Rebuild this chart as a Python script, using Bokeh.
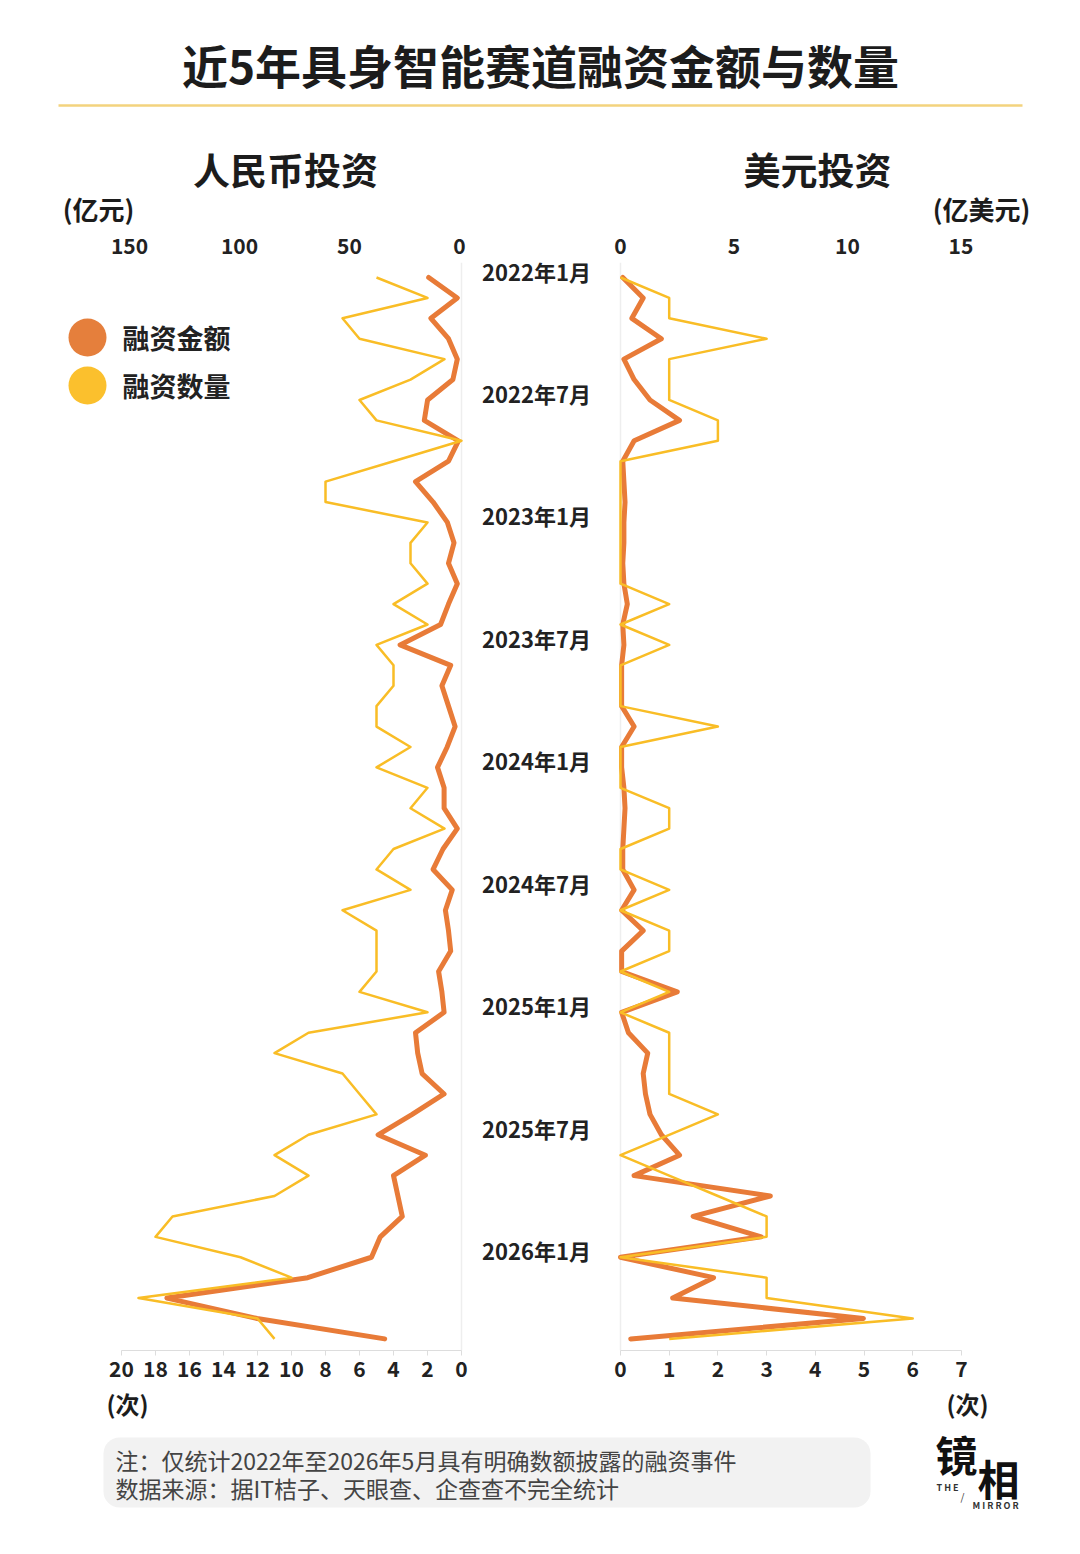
from bokeh.plotting import figure
from bokeh.models import (Range1d, LinearAxis, FixedTicker, Span, ColumnDataSource, BoxAnnotation)
from bokeh.layouts import column, row
from bokeh.embed import file_html
from bokeh.resources import INLINE
from bokeh.core.properties import value

# ---------------- data ----------------
months = [f"{y}-{m:02d}" for y in range(2022, 2027) for m in range(1, 13)][:53]

# 人民币投资: 融资金额(亿元) / 融资数量(次)
rmb_amount = [14, 1, 13, 5, 1, 3, 14.5, 16, 0.5, 5,
              20, 12, 5.5, 2.5, 5, 1, 5, 8.6, 27, 4,
              8, 5, 2, 5.6, 10, 7, 7, 1, 7.5, 12,
              3.3, 6.4, 5, 4, 9.5, 8, 7, 20, 19, 17,
              7, 21.5, 37, 15.5, 30, 28, 26, 36, 40, 69,
              133, 92, 34]
rmb_count = [5, 2, 7, 6, 1, 3, 6, 5, 0, 4,
             8, 8, 2, 3, 3, 2, 4, 2, 5, 4,
             4, 5, 5, 3, 5, 2, 3, 1, 4, 5,
             3, 7, 5, 5, 5, 6, 2, 9, 11, 7,
             6, 5, 9, 11, 9, 11, 17, 18, 13, 10,
             19, 12, 11]

# 美元投资: 融资金额(亿美元) / 融资数量(次)
usd_amount = [0.1, 1.0, 0.5, 1.8, 0.15, 0.6, 1.3, 2.6, 0.6, 0.1,
              0.15, 0.2, 0.15, 0.15, 0.1, 0.15, 0.3, 0.1, 0.15, 0.05,
              0.05, 0.05, 0.6, 0.05, 0.05, 0.15, 0.2, 0.15, 0.1, 0.1,
              0.6, 0.05, 1.0, 0.05, 0.05, 2.5, 0.05, 0.35, 1.2, 1.0,
              1.1, 1.3, 1.8, 2.6, 0.6, 6.6, 3.2, 6.2, 0.0, 4.1,
              2.3, 10.7, 0.45]
usd_count = [0, 1, 1, 3, 1, 1, 1, 2, 2, 0,
             0, 0, 0, 0, 0, 0, 1, 0, 1, 0,
             0, 0, 2, 0, 0, 0, 1, 1, 0, 0,
             1, 0, 1, 1, 0, 1, 0, 1, 1, 1,
             1, 2, 1, 0, 1, 2, 3, 3, 0, 3,
             3, 6, 1]

month_tick_keys = ["2022-01", "2022-07", "2023-01", "2023-07", "2024-01",
                   "2024-07", "2025-01", "2025-07", "2026-01"]
month_tick_labels = ["2022年1月", "2022年7月", "2023年1月", "2023年7月", "2024年1月",
                     "2024年7月", "2025年1月", "2025年7月", "2026年1月"]

legend_labels = ["融资金额", "融资数量"]

rmb_amount_ticks = [0, 50, 100, 150]
rmb_count_ticks = [0, 2, 4, 6, 8, 10, 12, 14, 16, 18, 20]
usd_amount_ticks = [0, 5, 10, 15]
usd_count_ticks = [0, 1, 2, 3, 4, 5, 6, 7]

# ---------------- style ----------------
FONT = "Noto Sans CJK SC"
ORANGE = "#E87B38"
YELLOW = "#F9BD26"
LEG_COLORS = ["#E57F3C", "#FBC02D"]
DARK = "#1c1c1c"

L_W, M_W, R_W = 478, 127, 473
W = L_W + M_W + R_W

def clean(p):
    p.grid.visible = False
    p.outline_line_color = None
    p.background_fill_color = "white"
    p.border_fill_color = "white"

idx = list(range(len(months)))

# vertical geometry (page pixels)
Y0_PX, YN_PX = 277.0, 1338.4
DY = (YN_PX - Y0_PX) / (len(months) - 1)
HDR_H = 228
ROW_TOP, FRAME_TOP, FRAME_BOT, ROW_BOT = HDR_H, 262, 1350, 1383
FOOT_BOT = 1550

def py_to_idx(py):
    return (py - Y0_PX) / DY
y_range = Range1d(py_to_idx(FRAME_BOT), py_to_idx(FRAME_TOP))

def tick_axis(rng_name, ticks, place, bounds=None):
    kw = dict(ticker=FixedTicker(ticks=ticks),
              major_label_text_font=FONT, major_label_text_font_size="21px",
              major_label_text_font_style="bold", major_label_text_color="#222222",
              minor_tick_line_color=None, major_tick_in=0)
    if rng_name:
        kw["x_range_name"] = rng_name
    if place == "above":
        kw.update(axis_line_color=None, major_tick_line_color=None,
                  major_tick_out=0, major_label_standoff=9)
    else:
        kw.update(axis_line_color="#DDDDDD", major_tick_line_color="#DDDDDD",
                  major_tick_out=5, major_label_standoff=5)
    if bounds is not None:
        kw["bounds"] = bounds
    return LinearAxis(**kw)

# ---------------- header ----------------
hdr = figure(width=W, height=HDR_H, x_range=Range1d(0, W), y_range=Range1d(0, HDR_H),
             output_backend="svg", toolbar_location=None, min_border=0,
             x_axis_location=None, y_axis_location=None)
clean(hdr)
def hy(py):
    return HDR_H - py
hdr.text(x=[540], y=[hy(63)], text=["近5年具身智能赛道融资金额与数量"], text_font=value(FONT),
         text_font_style="bold", text_font_size="46px", text_align="center",
         text_baseline="middle", text_color=DARK)
hdr.segment(x0=[58], y0=[hy(105)], x1=[1022], y1=[hy(105)], line_color="#F3D37E", line_width=2.5)
hdr.text(x=[285, 817], y=[hy(168), hy(168)], text=["人民币投资", "美元投资"], text_font=value(FONT),
         text_font_style="bold", text_font_size="37px", text_align="center",
         text_baseline="middle", text_color=DARK)
hdr.text(x=[98, 981], y=[hy(208), hy(208)], text=["(亿元)", "(亿美元)"], text_font=value(FONT),
         text_font_style="bold", text_font_size="26px", text_align="center",
         text_baseline="middle", text_color=DARK)

# ---------------- left panel (RMB) ----------------
L_FRAME_L, L_FRAME_R = 31, L_W
def lc(px): return (461 - px) / 17.0
def la(px): return (459 - px) / 2.2
pl = figure(width=L_W, height=ROW_BOT - ROW_TOP, x_range=Range1d(lc(L_FRAME_L), lc(L_FRAME_R)),
            y_range=y_range, output_backend="svg", toolbar_location=None,
            min_border_left=L_FRAME_L, min_border_right=0,
            min_border_top=FRAME_TOP - ROW_TOP, min_border_bottom=ROW_BOT - FRAME_BOT,
            x_axis_location=None, y_axis_location=None)
clean(pl)
pl.extra_x_ranges = {"amt": Range1d(la(L_FRAME_L), la(L_FRAME_R))}
pl.add_layout(tick_axis("amt", rmb_amount_ticks, "above"), "above")
pl.add_layout(tick_axis(None, rmb_count_ticks, "below", bounds=(0, 20)), "below")
pl.add_layout(Span(location=0, dimension="height", line_color="#EEEEEE", line_width=1.5, level="underlay"))

src_l = ColumnDataSource(dict(idx=idx, amount=rmb_amount, count=rmb_count))
pl.line(x="amount", y="idx", source=src_l, x_range_name="amt", line_color=ORANGE,
        line_width=5, line_join="round", line_cap="round")
pl.line(x="count", y="idx", source=src_l, line_color=YELLOW, line_width=2.5, line_join="round")

# legend (drawn as swatches + labels in the upper-left of the RMB panel)
leg_src = ColumnDataSource(dict(
    x=[lc(87)] * 2, tx=[lc(122)] * 2,
    y=[py_to_idx(337), py_to_idx(385)],
    color=LEG_COLORS, label=legend_labels))
pl.scatter(x="x", y="y", source=leg_src, size=38, marker="circle", fill_color="color",
           line_color=None)
pl.text(x="tx", y="y", text="label", source=leg_src, text_font=value(FONT), text_font_style="bold",
        text_font_size="27px", text_align="left", text_baseline="middle", text_color="#222222")

# ---------------- middle (month labels) ----------------
pm = figure(width=M_W, height=ROW_BOT - ROW_TOP, x_range=Range1d(-58, M_W - 58), y_range=y_range,
            output_backend="svg", toolbar_location=None, min_border_left=0, min_border_right=0,
            min_border_top=FRAME_TOP - ROW_TOP, min_border_bottom=ROW_BOT - FRAME_BOT,
            x_axis_location=None, y_axis_location=None)
clean(pm)
tick_idx = [months.index(k) for k in month_tick_keys]
src_m = ColumnDataSource(dict(y=tick_idx, label=month_tick_labels, x=[0] * len(tick_idx)))
pm.text(x="x", y="y", text="label", source=src_m, text_font=value(FONT), text_font_style="bold",
        text_font_size="22px", text_align="center", text_baseline="middle",
        text_color="#222222", y_offset=-7)

# ---------------- right panel (USD) ----------------
R_FRAME_L, R_FRAME_R = L_W + M_W, W
def rc(px): return (px - 620) / 48.7
def ra(px): return (px - 620) / 22.7
pr = figure(width=R_W, height=ROW_BOT - ROW_TOP, x_range=Range1d(rc(R_FRAME_L), rc(R_FRAME_R)),
            y_range=y_range, output_backend="svg", toolbar_location=None,
            min_border_left=0, min_border_right=0,
            min_border_top=FRAME_TOP - ROW_TOP, min_border_bottom=ROW_BOT - FRAME_BOT,
            x_axis_location=None, y_axis_location=None)
clean(pr)
pr.extra_x_ranges = {"amt": Range1d(ra(R_FRAME_L), ra(R_FRAME_R))}
pr.add_layout(tick_axis("amt", usd_amount_ticks, "above"), "above")
pr.add_layout(tick_axis(None, usd_count_ticks, "below", bounds=(0, 7)), "below")
pr.add_layout(Span(location=0, dimension="height", line_color="#EEEEEE", line_width=1.5, level="underlay"))

src_r = ColumnDataSource(dict(idx=idx, amount=usd_amount, count=usd_count))
pr.line(x="amount", y="idx", source=src_r, x_range_name="amt", line_color=ORANGE,
        line_width=5, line_join="round", line_cap="round")
pr.line(x="count", y="idx", source=src_r, line_color=YELLOW, line_width=2.5, line_join="round")

# ---------------- footer ----------------
ft = figure(width=W, height=FOOT_BOT - ROW_BOT, x_range=Range1d(0, W),
            y_range=Range1d(0, FOOT_BOT - ROW_BOT), output_backend="svg", toolbar_location=None,
            min_border=0, x_axis_location=None, y_axis_location=None)
clean(ft)
def fy(py):
    return FOOT_BOT - py
ft.text(x=[127, 967], y=[fy(1403), fy(1403)], text=["(次)", "(次)"], text_font=value(FONT),
        text_font_style="bold", text_font_size="24px", text_align="center",
        text_baseline="middle", text_color=DARK)
ft.add_layout(BoxAnnotation(left=103, right=870, bottom=fy(1507), top=fy(1437),
                            fill_color="#F2F2F2", fill_alpha=1.0, line_alpha=0,
                            border_radius=16, level="underlay"))
ft.text(x=[115, 115], y=[fy(1459), fy(1487)],
        text=["注：仅统计2022年至2026年5月具有明确数额披露的融资事件",
              "数据来源：据IT桔子、天眼查、企查查不完全统计"],
        text_font=value(FONT), text_font_size="23px", text_align="left",
        text_baseline="middle", text_color="#444444")
# logo
ft.text(x=[956], y=[fy(1453)], text=["镜"], text_font=value(FONT), text_font_style="bold",
        text_font_size="42px", text_align="center", text_baseline="middle", text_color="#111111")
ft.text(x=[998], y=[fy(1477)], text=["相"], text_font=value(FONT), text_font_style="bold",
        text_font_size="42px", text_align="center", text_baseline="middle", text_color="#111111")
ft.text(x=[936], y=[fy(1487)], text=["T H E"], text_font=value(FONT), text_font_style="bold",
        text_font_size="9px", text_align="left", text_baseline="middle", text_color="#333333")
ft.text(x=[962], y=[fy(1496)], text=["/"], text_font=value(FONT),
        text_font_size="10px", text_align="center", text_baseline="middle", text_color="#333333")
ft.text(x=[972], y=[fy(1505)], text=["M I R R O R"], text_font=value(FONT), text_font_style="bold",
        text_font_size="9px", text_align="left", text_baseline="middle", text_color="#333333")

layout = column(hdr, row(pl, pm, pr), ft)
open("out.html", "w").write(file_html(layout, INLINE))
